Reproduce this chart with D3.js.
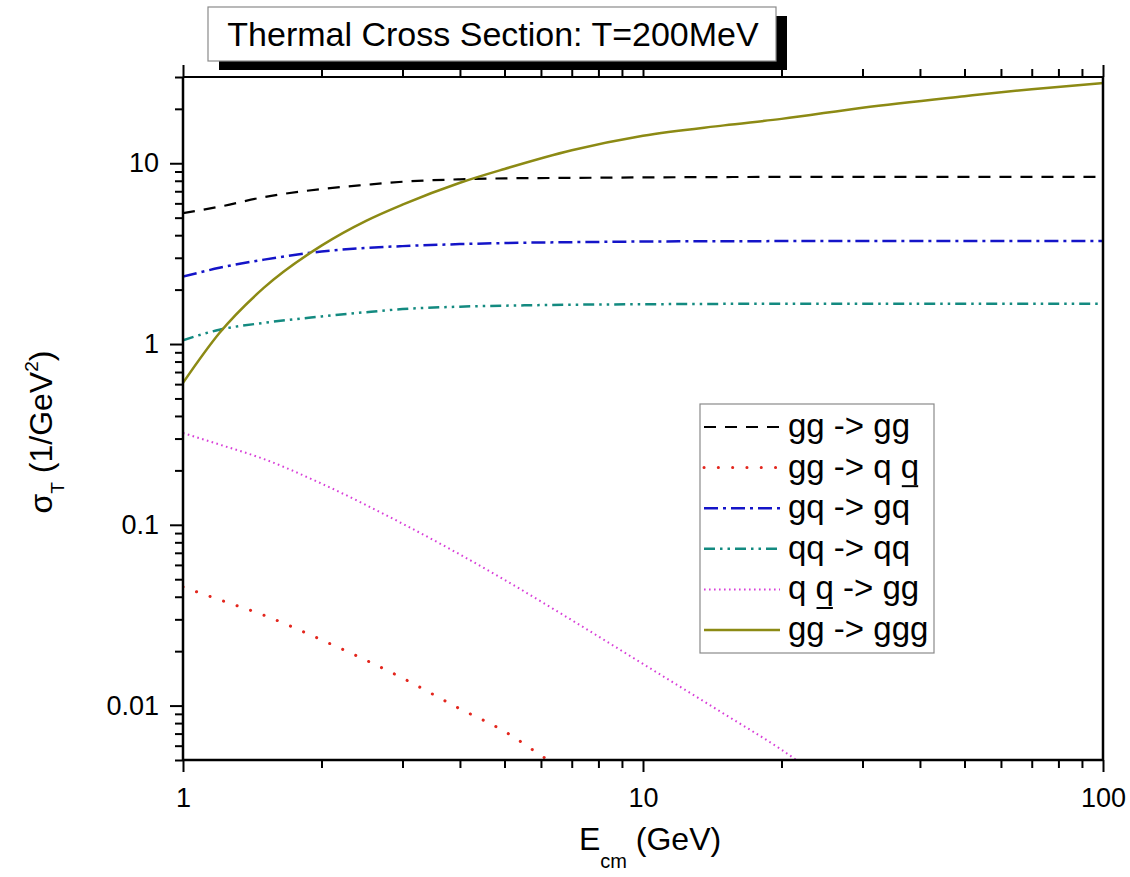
<!DOCTYPE html>
<html>
<head>
<meta charset="utf-8">
<script src="https://cdn.jsdelivr.net/npm/d3@7"></script>
<style>
  html, body { margin: 0; padding: 0; background: #fff; }
  svg { display: block; font-family: "Liberation Sans", Arial, sans-serif; }
</style>
</head>
<body>
<svg id="chart" width="1130" height="877"></svg>
<script>
// ---------- data ----------
const titleText = "Thermal Cross Section: T=200MeV";

const ggE   = [1, 1.2, 1.5, 2, 2.5, 3, 4, 5, 7, 10, 20, 50, 100];
const ggV   = [5.3, 5.75, 6.5, 7.2, 7.6, 7.9, 8.15, 8.25, 8.3, 8.35, 8.4, 8.4, 8.4];

const ggqqE = [1, 1.2, 1.5, 2, 3, 4, 5, 6, 7];
const ggqqV = [0.0453, 0.0385, 0.0316, 0.0231, 0.0142, 0.0096, 0.0072, 0.0053, 0.0041];

const gqE   = [1, 1.2, 1.5, 2, 2.5, 3, 4, 5, 7, 10, 20, 50, 100];
const gqV   = [2.36, 2.64, 2.93, 3.25, 3.4, 3.48, 3.57, 3.62, 3.66, 3.69, 3.71, 3.72, 3.72];

const qqE   = [1, 1.2, 1.5, 2, 2.5, 3, 4, 5, 7, 10, 20, 100];
const qqV   = [1.05, 1.2, 1.31, 1.42, 1.5, 1.56, 1.61, 1.63, 1.65, 1.66, 1.67, 1.67];

const qqggE = [1, 1.2, 1.5, 2, 3, 4, 5, 7, 10, 15, 20, 25];
const qqggV = [0.322, 0.278, 0.231, 0.169, 0.1015, 0.0685, 0.0496, 0.0297, 0.0170, 0.0090, 0.0057, 0.0038];

const gggE  = [1, 1.2, 1.5, 2, 2.5, 3, 4, 5, 7, 10, 15, 20, 30, 50, 70, 100];
const gggV  = [0.61, 1.15, 2.05, 3.5, 4.8, 5.9, 7.8, 9.3, 11.8, 14.2, 16.2, 17.6, 20.3, 23.5, 25.7, 27.8];

const xMajor = [1, 10, 100];
const xMinor = [2,3,4,5,6,7,8,9,20,30,40,50,60,70,80,90];
const xLabels = ["1", "10", "100"];
const yMajor = [0.01, 0.1, 1, 10];
const yMinor = [0.005,0.006,0.007,0.008,0.009,0.02,0.03,0.04,0.05,0.06,0.07,0.08,0.09,
                0.2,0.3,0.4,0.5,0.6,0.7,0.8,0.9,2,3,4,5,6,7,8,9,20,30];
const yLabels = ["0.01", "0.1", "1", "10"];

// legend labels; "_" marks the character that is underlined (antiquark)
const legendLabels = ["gg -> gg", "gg -> q _q", "gq -> gq", "qq -> qq", "q _q -> gg", "gg -> ggg"];

const series = [
  {E: ggE,   V: ggV,   color: "#000000", width: 2.2, dash: "12,9",  cap: "butt"},
  {E: ggqqE, V: ggqqV, color: "#e3261d", width: 3,   dash: "0.1,14.2", cap: "round"},
  {E: gqE,   V: gqV,   color: "#1414c8", width: 2.5, dash: "14,5,3,5", cap: "butt"},
  {E: qqE,   V: qqV,   color: "#138a80", width: 2.5, dash: "11,5,2.5,5,2.5,5", cap: "butt"},
  {E: qqggE, V: qqggV, color: "#d83ed8", width: 2,   dash: "1.6,3.4", cap: "butt"},
  {E: gggE,  V: gggV,  color: "#8c8a14", width: 2.5, dash: null, cap: "butt"}
];

// ---------- layout ----------
const L = 183, R = 1103, T = 77, B = 760;
const svg = d3.select("#chart");
const x = d3.scaleLog().domain([1, 100]).range([L, R]);
const y = d3.scaleLog().domain([0.005, 30]).range([B, T]);

svg.append("rect").attr("width", 1130).attr("height", 877).attr("fill", "#fff");

svg.append("clipPath").attr("id", "plotclip")
  .append("rect").attr("x", L).attr("y", T).attr("width", R - L).attr("height", B - T);

// ---------- series ----------
const line = d3.line().x(d => x(d[0])).y(d => y(d[1])).curve(d3.curveMonotoneX);
const gLines = svg.append("g").attr("clip-path", "url(#plotclip)");
series.forEach((s, i) => {
  const pts = s.E.map((e, k) => [e, s.V[k]]);
  gLines.append("path")
    .attr("d", line(pts))
    .attr("fill", "none")
    .attr("stroke", s.color)
    .attr("stroke-width", s.width)
    .attr("stroke-linecap", s.cap)
    .attr("stroke-dasharray", s.dash);
});

// ---------- axes ----------
function styleAxis(g, w) {
  g.select(".domain").remove();
  g.selectAll(".tick line").attr("stroke", "#000").attr("stroke-width", w);
  g.selectAll(".tick text").attr("fill", "#000").attr("font-size", 27)
    .attr("font-family", "'Liberation Sans', Arial, sans-serif");
}
const gxB = svg.append("g").attr("transform", `translate(0,${B})`)
  .call(d3.axisBottom(x).tickValues(xMajor).tickSize(12).tickPadding(16)
        .tickFormat((d, i) => xLabels[i]));
styleAxis(gxB, 2);
const gxBm = svg.append("g").attr("transform", `translate(0,${B})`)
  .call(d3.axisBottom(x).tickValues(xMinor).tickSize(8).tickFormat(""));
styleAxis(gxBm, 2);
const gxT = svg.append("g").attr("transform", `translate(0,${T})`)
  .call(d3.axisTop(x).tickValues(xMajor).tickSize(12).tickFormat(""));
styleAxis(gxT, 2);
const gxTm = svg.append("g").attr("transform", `translate(0,${T})`)
  .call(d3.axisTop(x).tickValues(xMinor).tickSize(8).tickFormat(""));
styleAxis(gxTm, 2);
const gyL = svg.append("g").attr("transform", `translate(${L},0)`)
  .call(d3.axisLeft(y).tickValues(yMajor).tickSize(13).tickPadding(11)
        .tickFormat((d, i) => yLabels[i]));
styleAxis(gyL, 2);
const gyLm = svg.append("g").attr("transform", `translate(${L},0)`)
  .call(d3.axisLeft(y).tickValues(yMinor).tickSize(8).tickFormat(""));
styleAxis(gyLm, 2);

// frame
svg.append("line").attr("x1", L).attr("x2", R).attr("y1", T).attr("y2", T).attr("stroke", "#000").attr("stroke-width", 2);
svg.append("line").attr("x1", R).attr("x2", R).attr("y1", T).attr("y2", B).attr("stroke", "#000").attr("stroke-width", 2.5);
svg.append("line").attr("x1", L).attr("x2", R).attr("y1", B).attr("y2", B).attr("stroke", "#000").attr("stroke-width", 2.5);
svg.append("line").attr("x1", L).attr("x2", L).attr("y1", T).attr("y2", B).attr("stroke", "#000").attr("stroke-width", 2.5);

// ---------- axis titles ----------
const xt = svg.append("text").attr("x", 650).attr("y", 850)
  .attr("text-anchor", "middle").attr("font-size", 32).attr("fill", "#000");
xt.append("tspan").text("E");
xt.append("tspan").attr("font-size", 20).attr("dy", 18).text("cm");
xt.append("tspan").attr("dy", -18).text(" (GeV)");

const yt = svg.append("text").attr("transform", "translate(52,432) rotate(-90)")
  .attr("text-anchor", "middle").attr("font-size", 32).attr("fill", "#000");
yt.append("tspan").text("σ");
yt.append("tspan").attr("font-size", 19).attr("dy", 12).text("T");
yt.append("tspan").attr("dy", -12).text(" (1/GeV");
yt.append("tspan").attr("font-size", 19).attr("dy", -14).text("2");
yt.append("tspan").attr("dy", 14).text(")");

// ---------- title box ----------
const tb = {x: 208, y: 7, w: 568, h: 54};
svg.append("rect").attr("x", tb.x + 11).attr("y", tb.y + 9).attr("width", tb.w).attr("height", tb.h).attr("fill", "#000");
svg.append("rect").attr("x", tb.x).attr("y", tb.y).attr("width", tb.w).attr("height", tb.h)
  .attr("fill", "#fff").attr("stroke", "#8a8a8a").attr("stroke-width", 1.2);
svg.append("text").attr("x", tb.x + tb.w / 2 + 1).attr("y", 46).attr("text-anchor", "middle")
  .attr("font-size", 34).attr("fill", "#000").text(titleText);

// ---------- legend ----------
const lg = {x: 700, y: 404, w: 234, h: 249};
const legFont = 33;
svg.append("rect").attr("x", lg.x).attr("y", lg.y).attr("width", lg.w).attr("height", lg.h)
  .attr("fill", "#fff").attr("stroke", "#8a8a8a").attr("stroke-width", 1.2);
const rowY = d3.scaleLinear().domain([0, 5]).range([427, 630]);
series.forEach((s, i) => {
  const yy = rowY(i);
  svg.append("line").attr("x1", 704).attr("x2", 780).attr("y1", yy).attr("y2", yy)
    .attr("stroke", s.color).attr("stroke-width", s.width)
    .attr("stroke-linecap", s.cap).attr("stroke-dasharray", s.dash);
  const raw = legendLabels[i];
  const uIdx = raw.indexOf("_");
  const label = raw.replace("_", "");
  const t = svg.append("text").attr("x", 788).attr("y", yy + 10)
    .attr("font-size", legFont).attr("fill", "#000").text(label);
  if (uIdx >= 0) {
    const ext = t.node().getExtentOfChar(uIdx);
    const uy = yy + 10 + legFont * 0.26;
    svg.append("line").attr("x1", ext.x + 1).attr("x2", ext.x + ext.width - 1)
      .attr("y1", uy).attr("y2", uy).attr("stroke", "#000").attr("stroke-width", 2);
  }
});
</script>
</body>
</html>
